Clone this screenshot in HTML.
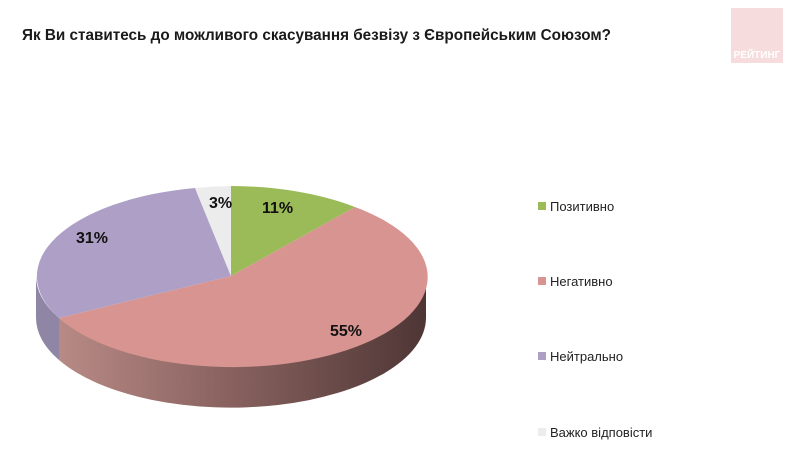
<!DOCTYPE html>
<html><head><meta charset="utf-8"><style>
body{margin:0;background:#fff;width:800px;height:465px;overflow:hidden;font-family:"Liberation Sans",sans-serif}
</style></head><body>
<svg width="800" height="465" xmlns="http://www.w3.org/2000/svg">
<defs>
<linearGradient id="rs" x1="0" x2="1" y1="0" y2="0">
<stop offset="0" stop-color="#b88a86"/><stop offset="0.45" stop-color="#8a6360"/><stop offset="1" stop-color="#4e3635"/>
</linearGradient>
</defs>
<text x="22" y="40" font-size="15.3" font-weight="bold" fill="#1a1a1a" textLength="589" lengthAdjust="spacingAndGlyphs">Як Ви ставитесь до можливого скасування безвізу з Європейським Союзом?</text>
<rect x="731" y="8" width="52" height="55" fill="#f6dcdc"/>
<text x="757" y="58" font-size="10" font-weight="bold" fill="#fff" text-anchor="middle">РЕЙТИНГ</text>
<path d="M426,276 A195,90 0 0 1 59,318 L59,360 A195,90 0 0 0 426,318 Z" fill="url(#rs)"/>
<path d="M59,318 A195,90 0 0 1 36,276 L36,318 A195,90 0 0 0 59,360 Z" fill="#8f86a6"/>
<path d="M231,276 L231,186 A195,90 0 0 1 355,207 Z" fill="#9bbb59"/>
<path d="M231,276 L355,207 A195,90 0 1 1 59,318 Z" fill="#d79490"/>
<path d="M231,276 L59,318 A195,90 0 0 1 195,188 Z" fill="#ae9fc6"/>
<path d="M231,276 L195,188 A195,90 0 0 1 231,186 Z" fill="#ececec"/>
<g font-size="16" font-weight="bold" fill="#111">
<text x="262" y="213">11%</text>
<text x="209" y="208">3%</text>
<text x="76" y="243">31%</text>
<text x="330" y="336">55%</text>
</g>
<g font-size="13" fill="#222">
<rect x="538" y="202" width="8" height="8" fill="#9bbb59"/><text x="550" y="211">Позитивно</text>
<rect x="538" y="277" width="8" height="8" fill="#d79490"/><text x="550" y="286">Негативно</text>
<rect x="538" y="352" width="8" height="8" fill="#ae9fc6"/><text x="550" y="361">Нейтрально</text>
<rect x="538" y="428" width="8" height="8" fill="#ececec"/><text x="550" y="437">Важко відповісти</text>
</g>
</svg>
</body></html>
